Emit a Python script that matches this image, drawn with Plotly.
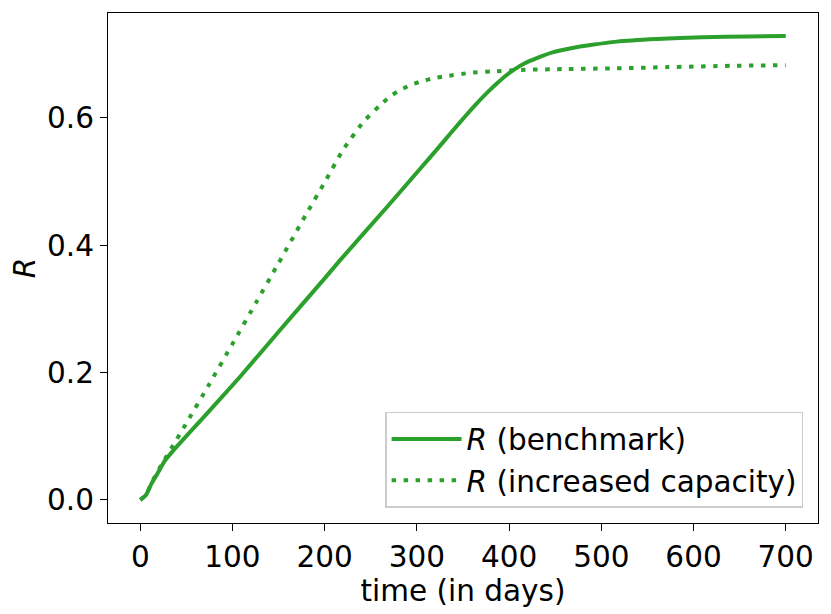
import plotly.graph_objects as go

# 基准情形
days_bench = [0, 6, 12, 19, 26, 35, 72, 108, 150, 200, 217, 270, 304, 322, 340, 352,
              365, 377, 387, 396, 405, 417, 430, 447, 467, 490, 517, 560, 610, 660, 700]
r_bench = [0, 0.007, 0.025, 0.042, 0.060, 0.076, 0.135, 0.193, 0.264, 0.348, 0.377,
           0.464, 0.521, 0.551, 0.582, 0.602, 0.623, 0.641, 0.6546, 0.666, 0.6756,
           0.686, 0.694, 0.703, 0.7096, 0.715, 0.720, 0.724, 0.727, 0.728, 0.729]

# 扩容情形
days_cap = [0, 6, 12, 21, 28, 35, 49, 75, 100, 126, 150, 180, 200, 220, 242, 260,
            271, 282, 295, 304, 318, 333, 358, 380, 413, 463, 517, 572, 640, 700]
r_cap = [0, 0.007, 0.026, 0.050, 0.067, 0.084, 0.118, 0.182, 0.245, 0.311, 0.372,
         0.449, 0.499, 0.550, 0.594, 0.620, 0.634, 0.644, 0.653, 0.657, 0.6625,
         0.666, 0.671, 0.673, 0.6756, 0.677, 0.678, 0.680, 0.682, 0.683]

green = "#2ca02c"
font = "DejaVu Sans, Liberation Sans, sans-serif"
fs = 29.5

fig = go.Figure()
fig.add_trace(go.Scatter(x=days_bench, y=r_bench, mode="lines",
                         name="<i>R</i> (benchmark)",
                         line=dict(color=green, width=4, shape="spline", smoothing=0.5)))
fig.add_trace(go.Scatter(x=days_cap, y=r_cap, mode="lines",
                         name="<i>R</i> (increased capacity)",
                         line=dict(color=green, width=4, dash="4.5px,7.5px",
                                   shape="spline", smoothing=0.5)))

axis_style = dict(showgrid=False, zeroline=False, showline=True, linecolor="black",
                  linewidth=1.3, mirror=True, ticks="outside", ticklen=7,
                  tickcolor="black", tickwidth=1.3,
                  tickfont=dict(size=fs, color="black", family=font))

# 页面 body 默认有 8px 边距，这里把尺寸和边距相应缩小
fig.update_layout(
    width=823, height=606,
    margin=dict(l=100, r=13, t=5, b=91),
    plot_bgcolor="white", paper_bgcolor="white",
    font=dict(family=font, color="black"),
    xaxis=dict(range=[-35, 735], tickvals=[0, 100, 200, 300, 400, 500, 600, 700],
               title=dict(text="time (in days)", font=dict(size=fs), standoff=4),
               **axis_style),
    yaxis=dict(range=[-0.0365, 0.765], tickvals=[0, 0.2, 0.4, 0.6],
               tickformat=".1f",
               title=dict(text="<i>R</i>", font=dict(size=fs), standoff=8),
               **axis_style),
    legend=dict(x=0.979, y=0.03, xanchor="right", yanchor="bottom",
                bgcolor="white", bordercolor="#cccccc", borderwidth=1.5,
                font=dict(size=fs, color="black"), tracegroupgap=2,
                itemwidth=70),
    showlegend=True,
)

fig.write_html("out.html")
